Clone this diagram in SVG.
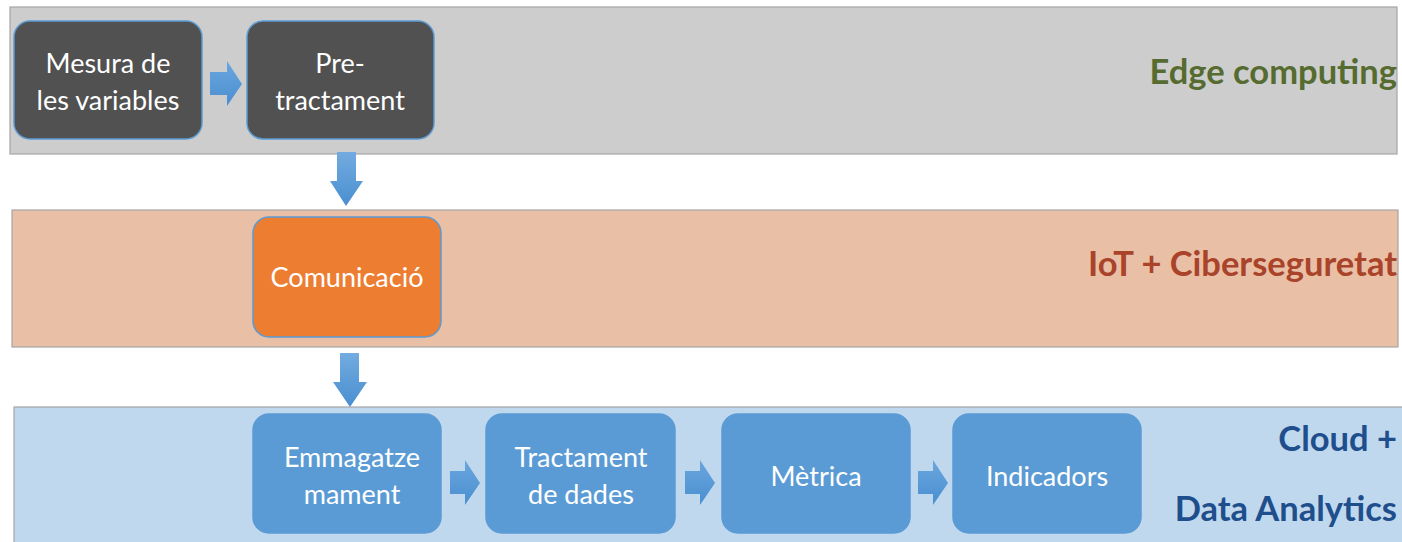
<svg xmlns="http://www.w3.org/2000/svg" width="1402" height="542" viewBox="0 0 1402 542">
<defs>
<linearGradient id="gh" x1="0" y1="0" x2="0" y2="1"><stop offset="0" stop-color="#6aa6de"/><stop offset="1" stop-color="#4a8fd0"/></linearGradient>
<linearGradient id="gv" x1="0" y1="0" x2="0" y2="1"><stop offset="0" stop-color="#72abe0"/><stop offset="1" stop-color="#4a8fd0"/></linearGradient>
</defs>
<style>
.band{stroke:#a6a6a6;stroke-width:1.2}
.node{stroke:#5b9bd5;stroke-width:1.5}
.nt{font-family:Lato,"Open Sans",sans-serif;font-size:27px;fill:#ffffff;text-anchor:middle}
.title{font-family:Lato,"Open Sans",sans-serif;font-size:34.5px;font-weight:bold;text-anchor:end}
</style>
<g id="band-edge"><rect class="band" x="10" y="7" width="1387" height="147" fill="#cdcdcd"/>
<text class="title" x="1397" y="84" fill="#556b2f">Edge computing</text></g>
<g id="band-iot"><rect class="band" x="12" y="210" width="1386" height="137" fill="#e9bfa6"/>
<text class="title" x="1397" y="276" fill="#a9432a">IoT + Ciberseguretat</text></g>
<g id="band-cloud"><rect class="band" x="14" y="407" width="1390" height="140" fill="#c0d8ee"/>
<text class="title" x="1397" y="451" fill="#1f4e8c">Cloud +</text>
<text class="title" x="1397" y="521" fill="#1f4e8c">Data Analytics</text></g>

<g id="n-mesura"><rect class="node" x="14" y="21" width="188" height="118" rx="16" fill="#515151"/>
<text class="nt" x="108" y="73">Mesura de</text><text class="nt" x="108" y="110">les variables</text></g>
<g id="n-pre"><rect class="node" x="247" y="21" width="187" height="118" rx="16" fill="#515151"/>
<text class="nt" x="340" y="73">Pre-</text><text class="nt" x="340" y="110">tractament</text></g>
<g id="n-com"><rect class="node" x="253" y="217" width="188" height="120" rx="16" fill="#ed7d31"/>
<text class="nt" x="347" y="287">Comunicació</text></g>
<g id="n-emm"><rect class="node" x="253" y="414" width="188" height="119" rx="16" fill="#5b9bd5"/>
<text class="nt" x="352" y="467">Emmagatze</text><text class="nt" x="352" y="504">mament</text></g>
<g id="n-tract"><rect class="node" x="486" y="414" width="189" height="119" rx="16" fill="#5b9bd5"/>
<text class="nt" x="581" y="467">Tractament</text><text class="nt" x="581" y="504">de dades</text></g>
<g id="n-metrica"><rect class="node" x="722" y="414" width="188" height="119" rx="16" fill="#5b9bd5"/>
<text class="nt" x="816" y="486">Mètrica</text></g>
<g id="n-ind"><rect class="node" x="953" y="414" width="188" height="119" rx="16" fill="#5b9bd5"/>
<text class="nt" x="1047" y="486">Indicadors</text></g>

<g id="connectors">
<polygon fill="url(#gh)" points="210,72 227,72 227,61 242,84 227,106 227,95 210,95"/>
<polygon fill="url(#gv)" points="337,152 356,152 356,181 363,181 346,206 330,181 337,181"/>
<polygon fill="url(#gv)" points="340,353 359,353 359,382 367,382 350,407 333,382 340,382"/>
<polygon fill="url(#gh)" points="450,471 465,471 465,460 480,483 465,505 465,494 450,494"/>
<polygon fill="url(#gh)" points="685,471 700,471 700,460 715,483 700,505 700,494 685,494"/>
<polygon fill="url(#gh)" points="918,471 933,471 933,460 948,483 933,505 933,494 918,494"/>
</g>
</svg>
